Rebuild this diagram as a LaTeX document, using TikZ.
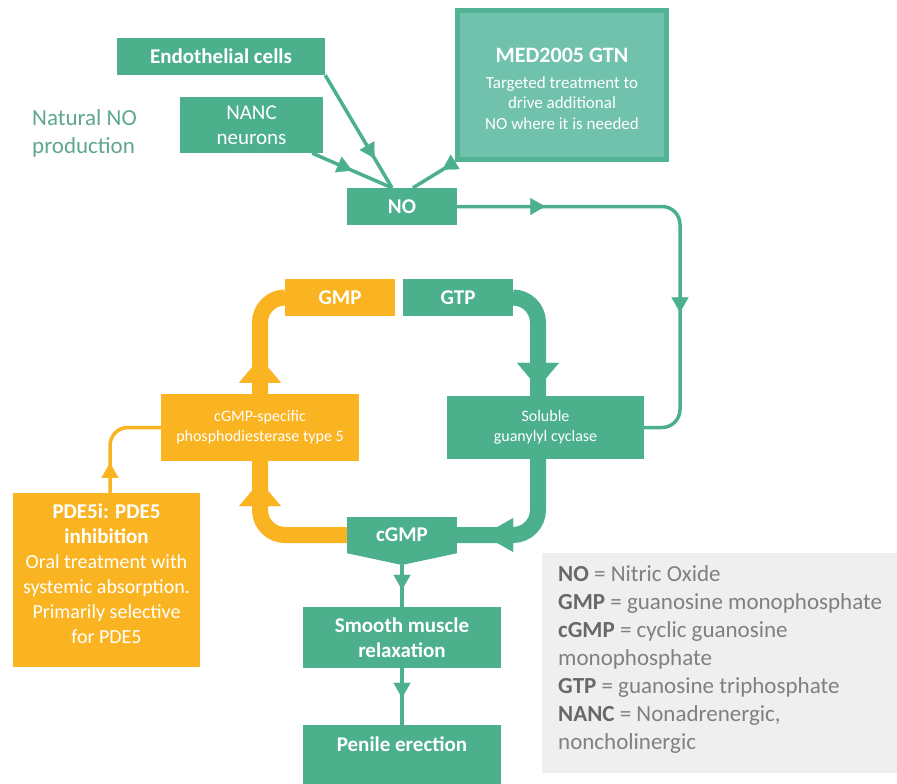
\documentclass[tikz,border=0pt]{standalone}
\usepackage{fontspec}
\setmainfont{Carlito}
\usetikzlibrary{arrows.meta,decorations.markings}
\definecolor{tealc}{RGB}{76,176,141}
\definecolor{medfill}{RGB}{112,194,172}
\definecolor{medline}{RGB}{82,179,149}
\definecolor{yelc}{RGB}{250,180,34}
\definecolor{natc}{RGB}{96,166,147}
\definecolor{legfill}{RGB}{239,239,239}
\definecolor{legtext}{RGB}{128,128,128}
\definecolor{legbold}{RGB}{104,104,104}
\newcommand\legterm[1]{{\color{legbold}\bfseries #1}}
\tikzset{
  box/.style={fill=tealc, text=white, inner sep=0pt, align=center, font=\fontsize{21}{25.5}\selectfont\bfseries},
  ybox/.style={box, fill=yelc},
  boxtext/.style={text=white, inner sep=0pt, align=center},
  nat/.style={text=natc, inner sep=0pt, font=\fontsize{23}{28}\selectfont},
  legline/.style={text=legtext, inner sep=0pt, anchor=base west, font=\fontsize{23}{28}\selectfont},
  thinT/.style={color=tealc, line width=3.5pt},
  thinY/.style={color=yelc, line width=3.5pt},
  thickT/.style={color=tealc, line width=16pt},
  thickY/.style={color=yelc, line width=16pt},
  tipthin/.style={decoration={markings, mark=at position #1 with {\arrow{Triangle[length=15pt,width=17pt,line width=0.1pt]}}}, postaction={decorate}},
  tipthick/.style={decoration={markings, mark=at position #1 with {\arrow{Triangle[length=25pt,width=42pt,line width=0.1pt]}}}, postaction={decorate}},
  tipthickL/.style={decoration={markings, mark=at position #1 with {\arrow{Triangle[length=30pt,width=34pt,line width=0.1pt]}}}, postaction={decorate}}
}
\begin{document}
\begin{tikzpicture}[x=1pt,y=-1pt]
\useasboundingbox[fill=white] (0,0) rectangle (897,784);

% natural NO production
\node[nat, anchor=base west] (nat1) at (32,125) {Natural NO};
\node[nat, anchor=base west] (nat2) at (32,153) {production};

% boxes
\node[box, minimum width=208pt, minimum height=37pt] (endo) at (221,56.5) {Endothelial cells};
\node[box, font=\fontsize{21}{25}\selectfont, minimum width=143pt, minimum height=56pt] (nanc) at (251.5,125) {NANC\\neurons};
\node[box, fill=medfill, draw=medline, line width=5pt, minimum width=209pt, minimum height=149pt] (med) at (562,85) {};
\node[boxtext, font=\fontsize{17}{20.5}\selectfont] (medtxt) at (562,89)
  {{\fontsize{22}{22}\selectfont\bfseries MED2005 GTN}\\[5pt]Targeted treatment to\\drive additional\\NO where it is needed};
\node[box, minimum width=110pt, minimum height=37pt] (no) at (402,206.5) {NO};
\node[ybox, minimum width=110pt, minimum height=37pt] (gmp) at (340,297.5) {GMP};
\node[box, minimum width=110pt, minimum height=37pt] (gtp) at (458,297.5) {GTP};
\node[ybox, font=\fontsize{16}{20}\selectfont, minimum width=198pt, minimum height=67pt] (pde) at (260,427.5) {cGMP-specific\\phosphodiesterase type 5};
\node[box, font=\fontsize{16}{20}\selectfont, minimum width=197pt, minimum height=63pt] (sgc) at (545.5,427.5) {Soluble\\guanylyl cyclase};
\node[box, minimum width=110pt, minimum height=36pt] (cgmp) at (402,535) {cGMP};
\coordinate (cgtip) at (402,565);
\fill[tealc] (cgmp.south west) -- (cgmp.south east) -- (cgtip) -- cycle;

\node[ybox, minimum width=187pt, minimum height=174pt] (pde5i) at (106.5,580) {};
\node[boxtext, font=\fontsize{20}{25}\selectfont] (pde5itxt) at (106.5,574)
  {{\fontsize{21}{25}\selectfont\bfseries PDE5i: PDE5}\\{\fontsize{21}{25}\selectfont\bfseries inhibition}\\Oral treatment with\\systemic absorption.\\Primarily selective\\for PDE5};

\node[box, minimum width=198pt, minimum height=61pt] (smooth) at (402,637.5) {Smooth muscle\\relaxation};
\node[box, minimum width=198pt, minimum height=62pt] (penile) at (402,756) {};
\node[boxtext, font=\fontsize{21}{25}\selectfont\bfseries] (peniletxt) at (402,744) {Penile erection};

% legend
\node[fill=legfill, inner sep=0pt, minimum width=355pt, minimum height=220pt] (legend) at (719.5,663) {};
\node[legline] (lg1) at (558,581) {\legterm{NO} = Nitric Oxide};
\node[legline] (lg2) at (558,609) {\legterm{GMP} = guanosine monophosphate};
\node[legline] (lg3) at (558,637) {\legterm{cGMP} = cyclic guanosine};
\node[legline] (lg4) at (558,665) {monophosphate};
\node[legline] (lg5) at (558,693) {\legterm{GTP} = guanosine triphosphate};
\node[legline] (lg6) at (558,721) {\legterm{NANC} = Nonadrenergic,};
\node[legline] (lg7) at (558,749) {noncholinergic};

% thin teal connectors into NO
\draw[thinT, tipthin=0.74] (endo.south east) -- ([xshift=-10pt]no.north);
\draw[thinT, tipthin=0.5] ([xshift=-11pt]nanc.south east) -- ([xshift=-10pt]no.north);
\draw[thinT, tipthin=0.3] (med.south west) -- ([xshift=11pt]no.north);

% NO -> soluble guanylyl cyclase
\coordinate (r1) at (680,206.5);
\coordinate (r2) at (680,427.5);
\draw[thinT, rounded corners=18pt,
  decoration={markings,
    mark=at position 88pt with {\arrow{Triangle[length=15pt,width=17pt,line width=0.1pt]}},
    mark=at position 321pt with {\arrow{Triangle[length=15pt,width=17pt,line width=0.1pt]}}},
  postaction={decorate}] (no.east) -- (r1) -- (r2) -- (sgc.east);

% thick teal
\draw[thickT, rounded corners=25pt, tipthick=-8pt] (gtp.east) -| ([xshift=-7.5pt]sgc.north);
\draw[thickT, rounded corners=25pt, tipthickL=-26pt] ([xshift=-7.5pt]sgc.south) |- (cgmp.east);

% thick yellow
\draw[thickY, rounded corners=25pt, tipthick=36pt] (pde.north) |- (gmp.west);
\draw[thickY, rounded corners=25pt, tipthick=-20pt] (cgmp.west) -| (pde.south);

% thin yellow inhibition
\draw[thinY, rounded corners=18pt, tipthin=30pt] ([xshift=3.5pt]pde5i.north) |- (pde.west);

% thin teal down
\draw[thinT, tipthin=-17pt] (cgtip) -- (smooth.north);
\draw[thinT, tipthin=-27pt] (smooth.south) -- (penile.north);
\end{tikzpicture}
\end{document}
